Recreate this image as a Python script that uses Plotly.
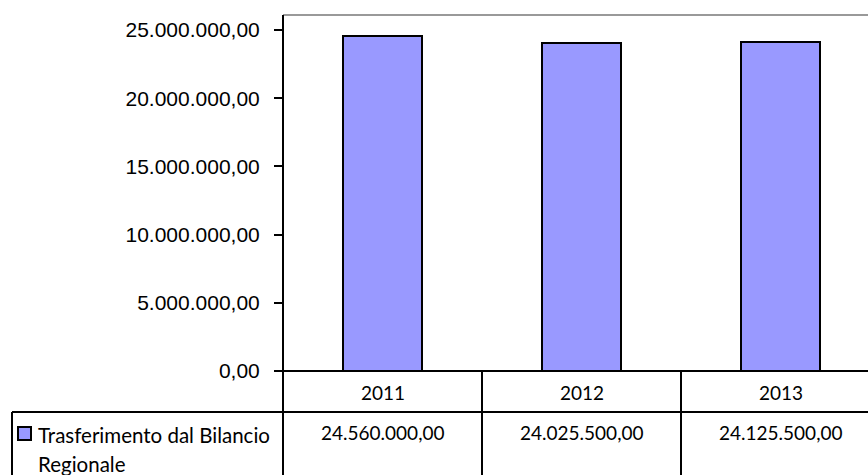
import plotly.graph_objects as go

# Chart data
years = ["2011", "2012", "2013"]
values = [24560000.00, 24025500.00, 24125500.00]
series_name = "Trasferimento dal Bilancio"
series_name_2 = "Regionale"
y_ticks = [0, 5000000, 10000000, 15000000, 20000000, 25000000]

W, H = 868, 475
L, T, B_PX = 283, 15, 371          # plot area left, top, bottom (pixels)
PW, PH = W - L, B_PX - T

def px_x(px):
    return (px - L) / PW

def px_y(py):
    return (B_PX - py) / PH

def it_num(v):
    s = f"{v:,.2f}"
    return s.replace(",", "X").replace(".", ",").replace("X", ".")

bar_fill = "#9999FF"
xs = list(range(len(years)))

fig = go.Figure()
fig.add_trace(go.Bar(
    x=xs, y=values, width=0.4,
    marker=dict(color=bar_fill, line=dict(color="black", width=2)),
    showlegend=False, hoverinfo="skip",
))

ymax = 25000000 * PH / (B_PX - 30)
col_px = 199
xmax = -0.5 + PW / col_px

shapes = []
line_k = dict(color="black", width=2)
# top border of plot area
shapes.append(dict(type="line", xref="paper", yref="paper", x0=0, x1=1, y0=1, y1=1,
                   line=dict(color="#999999", width=2)))
# value axis line running down through the table
shapes.append(dict(type="line", xref="paper", yref="paper", x0=0, x1=0,
                   y0=1, y1=px_y(480), line=line_k))
# category axis / table top line
shapes.append(dict(type="line", xref="paper", yref="paper", x0=0, x1=1.05,
                   y0=0, y1=0, line=line_k))
# row separator between years and values
shapes.append(dict(type="line", xref="paper", yref="paper", x0=px_x(12), x1=1.05,
                   y0=px_y(412), y1=px_y(412), line=line_k))
# legend cell left border
shapes.append(dict(type="line", xref="paper", yref="paper", x0=px_x(12), x1=px_x(12),
                   y0=px_y(412), y1=px_y(480), line=line_k))
# column separators at category boundaries
for i in range(len(years)):
    shapes.append(dict(type="line", xref="x", yref="paper", x0=i + 0.5, x1=i + 0.5,
                       y0=0, y1=px_y(480), line=line_k))
# legend key
shapes.append(dict(type="rect", xref="paper", yref="paper",
                   x0=px_x(18), x1=px_x(31), y0=px_y(440), y1=px_y(427),
                   fillcolor=bar_fill, line=line_k))

table_font = dict(family="Lato, 'Open Sans', sans-serif", size=19, color="black")
legend_font = dict(family="Lato, 'Open Sans', sans-serif", size=20.5, color="black")
annotations = []
for i, (yr, v) in enumerate(zip(years, values)):
    annotations.append(dict(x=i, y=px_y(392), xref="x", yref="paper", text=yr,
                            showarrow=False, font=table_font,
                            xanchor="center", yanchor="middle"))
    annotations.append(dict(x=i, y=px_y(432), xref="x", yref="paper", text=it_num(v),
                            showarrow=False, font=table_font,
                            xanchor="center", yanchor="middle"))
annotations.append(dict(x=px_x(36), y=px_y(435), xref="paper", yref="paper",
                        text=series_name, showarrow=False, font=legend_font,
                        xanchor="left", yanchor="middle"))
annotations.append(dict(x=px_x(36), y=px_y(464), xref="paper", yref="paper",
                        text=series_name_2, showarrow=False, font=legend_font,
                        xanchor="left", yanchor="middle"))

fig.update_layout(
    width=W, height=H,
    margin=dict(l=L, r=0, t=T, b=H - B_PX, pad=0),
    paper_bgcolor="white", plot_bgcolor="white",
    separators=",.",
    bargap=0,
    shapes=shapes,
    annotations=annotations,
    xaxis=dict(range=[-0.5, xmax], showticklabels=False, ticks="",
               showgrid=False, zeroline=False, showline=False, fixedrange=True),
    yaxis=dict(range=[0, ymax], tickvals=y_ticks, tickformat=",.2f",
               ticks="outside", ticklen=8, tickwidth=2, tickcolor="black",
               ticklabelstandoff=10,
               tickfont=dict(family="Liberation Sans, Arial, sans-serif", size=21,
                             color="black"),
               showgrid=False, zeroline=False, showline=False, fixedrange=True),
)

fig.write_html("out.html")
